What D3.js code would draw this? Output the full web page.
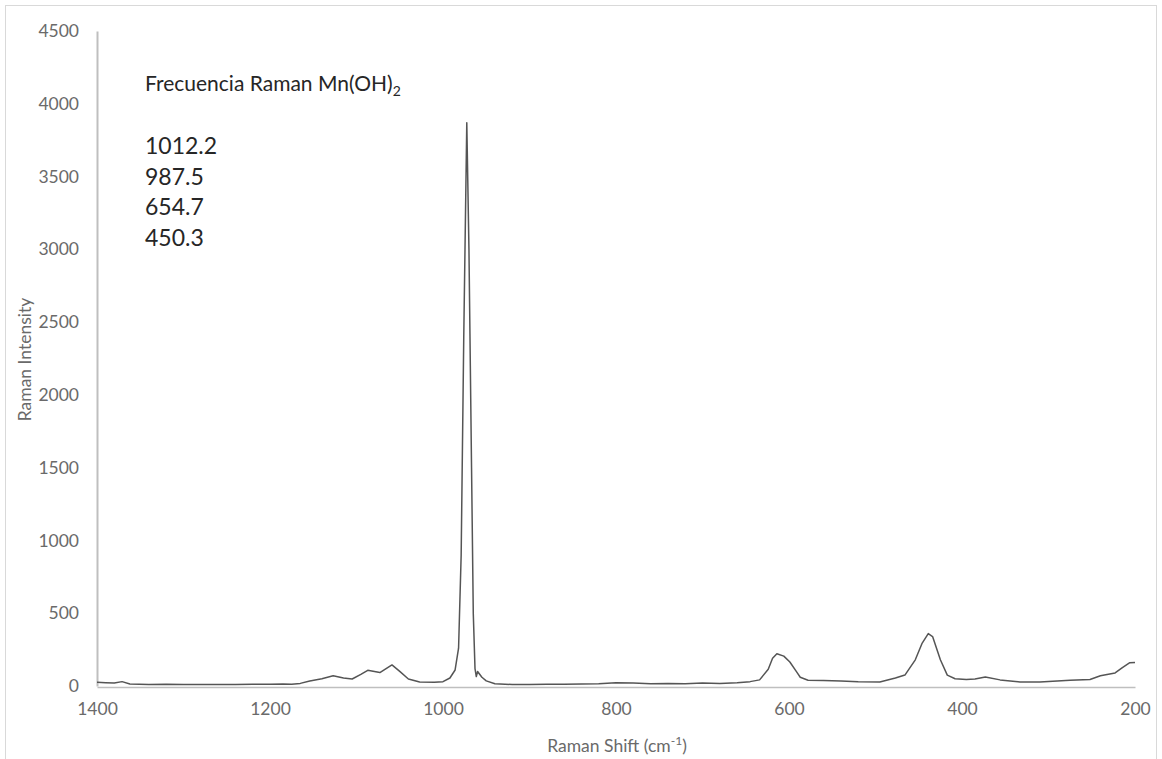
<!DOCTYPE html>
<html>
<head>
<meta charset="utf-8">
<script src="https://cdn.jsdelivr.net/npm/d3@7"></script>
<style>
  html, body { margin: 0; padding: 0; background: #fff; }
  svg { display: block; }
  text { font-family: Lato, "Open Sans", sans-serif; }
</style>
</head>
<body>
<svg id="chart" width="1162" height="759"></svg>
<script>
// ---- Data ----
const ramanShift = [
  1400, 1390, 1380, 1371, 1362, 1340, 1320, 1300, 1280, 1260, 1240, 1220, 1200,
  1185, 1175, 1165, 1154, 1140, 1127, 1115, 1105, 1095, 1087, 1073, 1059, 1050,
  1040, 1027, 1010, 1000, 992, 986, 982, 979, 976, 972.5, 970, 967, 965, 963,
  961.5, 960, 955, 950, 940, 920, 900, 880, 860, 840, 820, 800, 780, 760, 740,
  720, 700, 680, 660, 645, 634, 624, 619, 614, 606, 599, 591, 587, 578, 560,
  540, 520, 495, 477, 466, 454, 446, 439, 434, 425, 417, 408, 395, 385, 373,
  356, 333, 310, 290, 275, 252, 240, 223, 215, 206, 200
];
const ramanIntensity = [
  25, 22, 20, 30, 14, 10, 12, 10, 10, 11, 10, 12, 12,
  14, 12, 18, 35, 50, 70, 55, 48, 80, 108, 92, 145, 100,
  48, 28, 25, 30, 55, 110, 260, 900, 2400, 3870, 3000, 1500, 500, 120,
  65, 100, 60, 35, 15, 10, 10, 12, 12, 14, 15, 22, 20, 15, 18,
  16, 20, 18, 22, 30, 42, 115, 190, 222, 205, 165, 95, 60, 40, 38,
  35, 30, 28, 55, 75, 180, 295, 360, 340, 180, 75, 50, 45, 48, 62,
  42, 28, 28, 35, 40, 45, 70, 90, 125, 160, 162
];
const xTicks = [1400, 1200, 1000, 800, 600, 400, 200];
const yTicks = [0, 500, 1000, 1500, 2000, 2500, 3000, 3500, 4000, 4500];
const annotationTitle = "Frecuencia Raman Mn(OH)";
const annotationSub = "2";
const peakLabels = ["1012.2", "987.5", "654.7", "450.3"];
const xTitle = "Raman Shift (cm";
const yTitle = "Raman Intensity";

// ---- Layout ----
const W = 1162, H = 759;
const margin = { left: 97, right: 27, top: 31, bottom: 73 };
const svg = d3.select("#chart");

// chart border
svg.append("rect")
  .attr("x", 5.5).attr("y", 5.5)
  .attr("width", W - 11).attr("height", H + 20)
  .attr("fill", "#fff").attr("stroke", "#d9d9d9").attr("stroke-width", 1);

const x = d3.scaleLinear().domain([1400, 200]).range([margin.left, W - margin.right]);
const y = d3.scaleLinear().domain([0, 4500]).range([H - margin.bottom, margin.top]);
const fmt = d3.format("d");

// Y axis
const yAxis = svg.append("g")
  .attr("transform", `translate(${margin.left},0)`)
  .call(d3.axisLeft(y).tickValues(yTicks).tickFormat(fmt).tickSize(0).tickSizeOuter(0).tickPadding(18));
yAxis.select(".domain").attr("stroke", "#bfbfbf").attr("stroke-width", 2);
yAxis.selectAll("text")
  .attr("fill", "#6a6a6a").attr("font-size", 17.5)
  .style("font-family", "Lato, sans-serif");

// X axis
const xAxis = svg.append("g")
  .attr("transform", `translate(0,${H - margin.bottom + 1})`)
  .call(d3.axisBottom(x).tickValues(xTicks).tickFormat(fmt).tickSize(0).tickSizeOuter(0).tickPadding(16));
xAxis.select(".domain").attr("stroke", "#bfbfbf").attr("stroke-width", 1.5);
xAxis.selectAll("text")
  .attr("fill", "#6a6a6a").attr("font-size", 17.5)
  .style("font-family", "Lato, sans-serif");

// Spectrum line
const data = ramanShift.map((s, i) => ({ s, v: ramanIntensity[i] }));
svg.append("path")
  .datum(data)
  .attr("fill", "none")
  .attr("stroke", "#555555")
  .attr("stroke-width", 1.5)
  .attr("stroke-linejoin", "round")
  .attr("d", d3.line().x(d => x(d.s)).y(d => y(d.v)));

// Axis titles
const xt = svg.append("text")
  .attr("x", (x(1400) + x(200)) / 2 + 1)
  .attr("y", 752)
  .attr("text-anchor", "middle")
  .attr("fill", "#6a6a6a").attr("font-size", 17.5);
xt.append("tspan").text(xTitle);
xt.append("tspan").attr("font-size", 12).attr("dy", -7).text("-1");
xt.append("tspan").attr("dy", 7).text(")");

svg.append("text")
  .attr("transform", `translate(31,${(y(0) + y(4500)) / 2 + 1}) rotate(-90)`)
  .attr("text-anchor", "middle")
  .attr("fill", "#6a6a6a").attr("font-size", 17.5)
  .text(yTitle);

// Annotation
const ann = svg.append("text")
  .attr("x", 145).attr("y", 91)
  .attr("fill", "#262626").attr("font-size", 21);
ann.append("tspan").text(annotationTitle);
ann.append("tspan").attr("font-size", 14).attr("dy", 5).text(annotationSub);

svg.append("g").selectAll("text")
  .data(peakLabels)
  .join("text")
  .attr("x", 145)
  .attr("y", (d, i) => 154 + i * 30.5)
  .attr("fill", "#262626").attr("font-size", 23)
  .text(d => d);
</script>
</body>
</html>
